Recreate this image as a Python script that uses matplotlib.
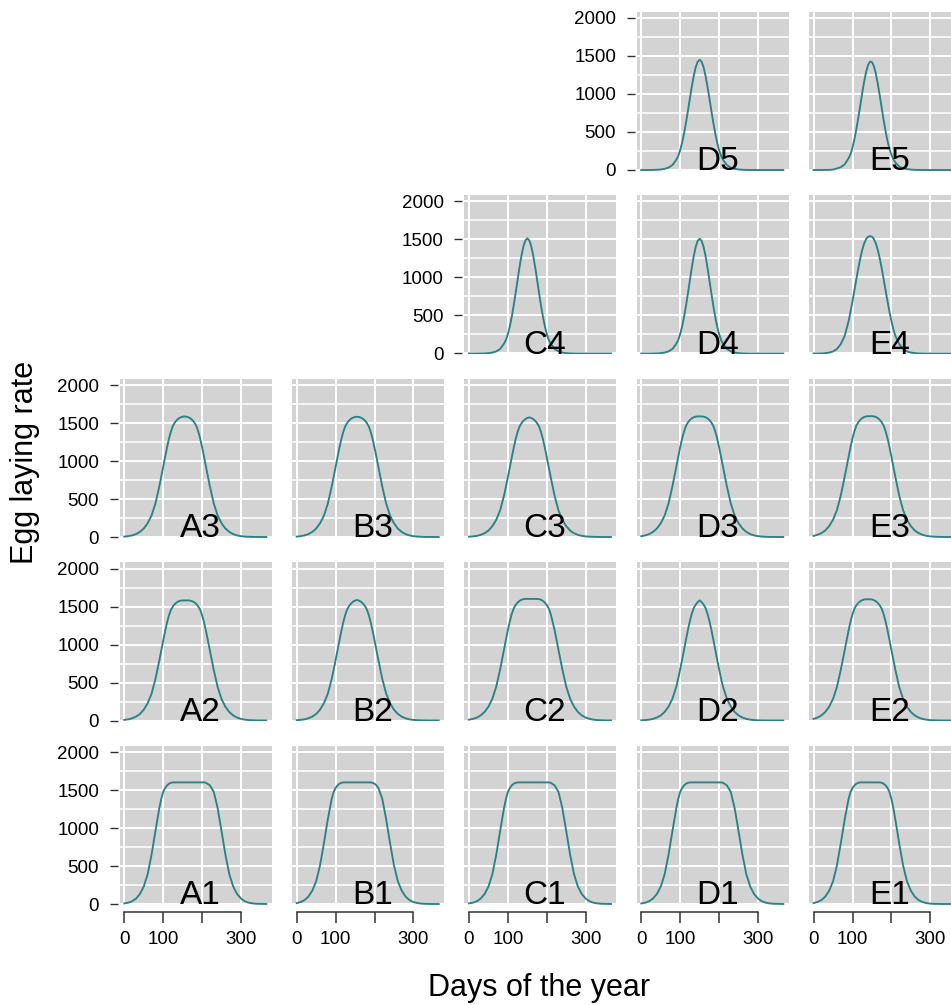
import matplotlib
matplotlib.use("Agg")
import matplotlib.pyplot as plt

plt.rcParams['font.family'] = ['Liberation Sans', 'DejaVu Sans']

# ---------------- data ----------------
days = [0, 10, 20, 30, 40, 50, 60, 70, 80, 90,
        95, 100, 105, 110, 115, 120, 125, 130, 135, 140, 145, 150, 155, 160, 165, 170, 175, 180,
        185, 190, 195, 200, 205,
        210, 220, 230, 240, 250, 260, 270, 280, 290, 300, 310, 320, 330, 340, 350, 360, 365]

A1 = [8, 17, 36, 71, 131, 229, 391, 648, 958, 1261,
      1384, 1475, 1526, 1561, 1583, 1595, 1600, 1600, 1600, 1600, 1600, 1600, 1600, 1600, 1600, 1600,
      1600, 1600, 1600, 1600, 1600, 1600, 1600,
      1595, 1561, 1475, 1261, 958, 648, 391, 229, 131, 71, 36, 17, 8, 3, 2, 1, 0]
B1 = [12, 26, 51, 97, 175, 299, 509, 800, 1115, 1384,
      1475, 1526, 1561, 1583, 1595, 1600, 1600, 1600, 1600, 1600, 1600, 1600, 1600, 1600, 1600, 1600,
      1600, 1600, 1600, 1600, 1595, 1583, 1561,
      1526, 1384, 1115, 800, 509, 299, 175, 97, 51, 26, 12, 5, 2, 1, 0, 0, 0]
C1 = [8, 17, 36, 71, 131, 229, 391, 648, 958, 1261,
      1384, 1475, 1526, 1561, 1583, 1595, 1600, 1600, 1600, 1600, 1600, 1600, 1600, 1600, 1600, 1600,
      1600, 1600, 1600, 1600, 1600, 1600, 1600,
      1595, 1561, 1475, 1261, 958, 648, 391, 229, 131, 71, 36, 17, 8, 3, 2, 1, 0]
D1 = [8, 17, 36, 71, 131, 229, 391, 648, 958, 1261,
      1384, 1475, 1526, 1561, 1583, 1595, 1600, 1600, 1600, 1600, 1600, 1600, 1600, 1600, 1600, 1600,
      1600, 1600, 1600, 1600, 1600, 1600, 1600,
      1595, 1561, 1475, 1261, 958, 648, 391, 229, 131, 71, 36, 17, 8, 3, 2, 1, 0]
E1 = [12, 26, 51, 97, 175, 299, 509, 800, 1115, 1384,
      1475, 1526, 1561, 1583, 1595, 1600, 1600, 1600, 1600, 1600, 1600, 1600, 1600, 1600, 1600, 1600,
      1595, 1583, 1561, 1526, 1475, 1384, 1261,
      1115, 800, 509, 299, 175, 97, 51, 26, 12, 5, 2, 1, 0, 0, 0, 0, 0]

A2 = [8, 15, 28, 51, 85, 142, 226, 351, 545, 790,
      920, 1051, 1177, 1291, 1386, 1457, 1501, 1533, 1555, 1569, 1577, 1580, 1580, 1580, 1580, 1577,
      1569, 1555, 1533, 1501, 1457, 1386, 1291,
      1177, 920, 664, 439, 281, 180, 111, 66, 38, 21, 11, 5, 3, 1, 1, 0, 0]
B2 = [4, 8, 15, 29, 51, 86, 143, 227, 353, 548,
      667, 795, 925, 1057, 1184, 1298, 1394, 1465, 1510, 1541, 1564, 1578, 1586, 1578, 1564, 1541,
      1510, 1465, 1394, 1298, 1184, 1057, 925,
      795, 548, 353, 227, 143, 86, 51, 29, 15, 8, 4, 2, 1, 0, 0, 0, 0]
C2 = [11, 21, 38, 67, 112, 182, 285, 445, 672, 931,
      1064, 1192, 1307, 1403, 1475, 1520, 1552, 1574, 1589, 1597, 1600, 1600, 1600, 1600, 1600, 1600,
      1600, 1597, 1589, 1574, 1552, 1520, 1475,
      1403, 1192, 931, 672, 445, 285, 182, 112, 67, 38, 21, 11, 5, 3, 1, 1, 0]
D2 = [3, 5, 11, 21, 39, 67, 112, 183, 286, 446,
      554, 675, 803, 935, 1068, 1196, 1312, 1408, 1481, 1526, 1558, 1580, 1558, 1526, 1481, 1408,
      1312, 1196, 1068, 935, 803, 675, 554,
      446, 286, 183, 112, 67, 39, 21, 11, 5, 3, 1, 1, 0, 0, 0, 0, 0]
E2 = [21, 38, 67, 112, 182, 284, 443, 670, 928, 1188,
      1303, 1399, 1471, 1515, 1547, 1569, 1584, 1592, 1595, 1595, 1595, 1592, 1584, 1569, 1547, 1515,
      1471, 1399, 1303, 1188, 1061, 928, 798,
      670, 443, 284, 182, 112, 67, 38, 21, 11, 5, 3, 1, 1, 0, 0, 0, 0]

A3 = [5, 11, 21, 38, 67, 111, 181, 282, 441, 666,
      793, 923, 1055, 1182, 1296, 1391, 1462, 1507, 1538, 1561, 1575, 1583, 1586, 1583, 1575, 1561,
      1538, 1507, 1462, 1391, 1296, 1182, 1055,
      923, 666, 441, 282, 181, 111, 67, 38, 21, 11, 5, 3, 1, 1, 0, 0, 0]
B3 = [5, 11, 21, 38, 67, 111, 181, 281, 440, 664,
      791, 921, 1052, 1179, 1293, 1387, 1458, 1503, 1534, 1557, 1571, 1579, 1582, 1579, 1571, 1557,
      1534, 1503, 1458, 1387, 1293, 1179, 1052,
      921, 664, 440, 281, 181, 111, 67, 38, 21, 11, 5, 3, 1, 1, 0, 0, 0]
C3 = [4, 8, 15, 28, 50, 85, 142, 226, 350, 544,
      662, 789, 918, 1049, 1175, 1288, 1383, 1454, 1498, 1530, 1552, 1566, 1574, 1566, 1552, 1530,
      1498, 1454, 1383, 1288, 1175, 1049, 918,
      789, 544, 350, 226, 142, 85, 50, 28, 15, 8, 4, 2, 1, 0, 0, 0, 0]
D3 = [11, 21, 38, 67, 111, 181, 282, 441, 667, 924,
      1055, 1182, 1297, 1392, 1463, 1508, 1539, 1562, 1576, 1584, 1587, 1587, 1587, 1584, 1576, 1562,
      1539, 1508, 1463, 1392, 1297, 1182, 1055,
      924, 667, 441, 282, 181, 111, 67, 38, 21, 11, 5, 3, 1, 1, 0, 0, 0]
E3 = [15, 29, 51, 86, 143, 227, 353, 549, 795, 1057,
      1185, 1299, 1394, 1466, 1511, 1542, 1565, 1579, 1587, 1590, 1590, 1590, 1587, 1579, 1565, 1542,
      1511, 1466, 1394, 1299, 1185, 1057, 925,
      795, 549, 353, 227, 143, 86, 51, 29, 15, 8, 4, 2, 1, 0, 0, 0, 0]

C4 = [0, 0, 0, 1, 2, 5, 12, 28, 60, 130,
      180, 257, 358, 485, 634, 799, 971, 1140, 1291, 1412, 1489, 1516, 1489, 1412, 1291, 1140,
      971, 799, 634, 485, 358, 257, 180,
      130, 60, 28, 12, 5, 2, 1, 0, 0, 0, 0, 0, 0, 0, 0, 0, 0]
D4 = [0, 0, 0, 1, 2, 5, 12, 28, 60, 129,
      179, 256, 357, 483, 631, 796, 967, 1136, 1286, 1406, 1483, 1510, 1483, 1406, 1286, 1136,
      967, 796, 631, 483, 357, 256, 179,
      129, 60, 28, 12, 5, 2, 1, 0, 0, 0, 0, 0, 0, 0, 0, 0, 0]
E4 = [0, 1, 2, 5, 12, 27, 60, 125, 234, 427,
      550, 687, 832, 980, 1123, 1252, 1363, 1448, 1506, 1537, 1545, 1537, 1506, 1448, 1363, 1252,
      1123, 980, 832, 687, 550, 427, 321,
      234, 125, 60, 27, 12, 5, 2, 1, 0, 0, 0, 0, 0, 0, 0, 0, 0]

D5 = [0, 0, 0, 1, 3, 7, 15, 32, 65, 135,
      185, 261, 362, 484, 626, 782, 945, 1102, 1243, 1354, 1425, 1450, 1425, 1354, 1243, 1102,
      945, 782, 626, 484, 362, 261, 185,
      135, 65, 32, 15, 7, 3, 1, 0, 0, 0, 0, 0, 0, 0, 0, 0, 0]
E5 = [0, 0, 0, 1, 2, 6, 20, 38, 75, 155,
      208, 297, 407, 539, 690, 851, 1013, 1164, 1291, 1381, 1426, 1421, 1366, 1268, 1135, 981,
      818, 658, 511, 383, 277, 200, 145,
      100, 45, 24, 12, 5, 2, 1, 0, 0, 0, 0, 0, 0, 0, 0, 0, 0]

y_ticks = [0, 500, 1000, 1500, 2000]
y_ticklabels = ['0', '500', '1000', '1500', '2000']
x_ticks = [0, 100, 200, 300]
x_ticklabels = ['0', '100', '', '300']

panels = [
    ('A1', A1), ('B1', B1), ('C1', C1), ('D1', D1), ('E1', E1),
    ('A2', A2), ('B2', B2), ('C2', C2), ('D2', D2), ('E2', E2),
    ('A3', A3), ('B3', B3), ('C3', C3), ('D3', D3), ('E3', E3),
    ('C4', C4), ('D4', D4), ('E4', E4),
    ('D5', D5), ('E5', E5),
]
for _n, _v in panels:
    assert len(_v) == len(days), (_n, len(_v))

# ---------------- layout (pixels) ----------------
W, H = 951, 1005
fig = plt.figure(figsize=(W / 100, H / 100), dpi=100)

PX_DAY = 0.389          # pixels per day
PX_VAL = 0.076          # pixels per unit of egg laying rate
XLIM = (-12, 379)
YLIM = (-10, 2080)
col_zero = {'A': 124.3, 'B': 296.7, 'C': 469.0, 'D': 641.3, 'E': 813.6}
row_zero = {r: 904 - 183.5 * (r - 1) for r in range(1, 6)}

LINE_COL = '#2a8282'
GRID_COL = 'white'
BG_COL = '#d3d3d3'
AX_COL = '#333333'

first_in_row = {}
for name, _ in panels:
    r = int(name[1])
    if r not in first_in_row:
        first_in_row[r] = name

for name, vals in panels:
    c, r = name[0], int(name[1])
    left = col_zero[c] + XLIM[0] * PX_DAY
    width = (XLIM[1] - XLIM[0]) * PX_DAY
    bottom = row_zero[r] - YLIM[0] * PX_VAL
    height = (YLIM[1] - YLIM[0]) * PX_VAL
    ax = fig.add_axes([left / W, 1 - bottom / H, width / W, height / H])
    ax.set_facecolor(BG_COL)
    ax.set_xlim(*XLIM)
    ax.set_ylim(*YLIM)
    for x in x_ticks:
        ax.axvline(x, color=GRID_COL, lw=1.4, zorder=1)
    for y in range(0, 2001, 250):
        ax.axhline(y, color=GRID_COL, lw=1.4 if y % 500 == 0 else 1.1, zorder=1)
    ax.plot(days, vals, color=LINE_COL, lw=1.35, zorder=3, solid_joinstyle='round')
    ax.text(195, 0, name, fontsize=24, ha='center', va='baseline', zorder=4, color='black')

    for s in ax.spines.values():
        s.set_visible(False)

    ax.set_yticks(y_ticks)
    if first_in_row[r] == name:
        ax.spines['left'].set_visible(True)
        ax.spines['left'].set_color('none')
        ax.spines['left'].set_position(('outward', 1.5))
        ax.set_yticklabels(y_ticklabels)
        ax.tick_params(axis='y', direction='out', length=5.8, width=1.0, color=AX_COL,
                       pad=7.5, labelsize=13.5, labelcolor='black')
    else:
        ax.tick_params(axis='y', left=False, labelleft=False)

    ax.set_xticks(x_ticks)
    if r == 1:
        sp = ax.spines['bottom']
        sp.set_visible(True)
        sp.set_position(('outward', 5))
        sp.set_bounds(0, 300)
        sp.set_color(AX_COL)
        sp.set_linewidth(1.1)
        ax.set_xticklabels(x_ticklabels)
        ax.tick_params(axis='x', direction='out', length=8, width=1.1, color=AX_COL,
                       pad=6, labelsize=13.5, labelcolor='black')
    else:
        ax.tick_params(axis='x', bottom=False, labelbottom=False)

fig.text(539 / W, 1 - 996 / H, 'Days of the year', fontsize=22, ha='center', va='baseline')
fig.text(25 / W, 1 - 462 / H, 'Egg laying rate', fontsize=22, ha='center', va='center',
         rotation=90)

fig.savefig('out.png', dpi=100)
